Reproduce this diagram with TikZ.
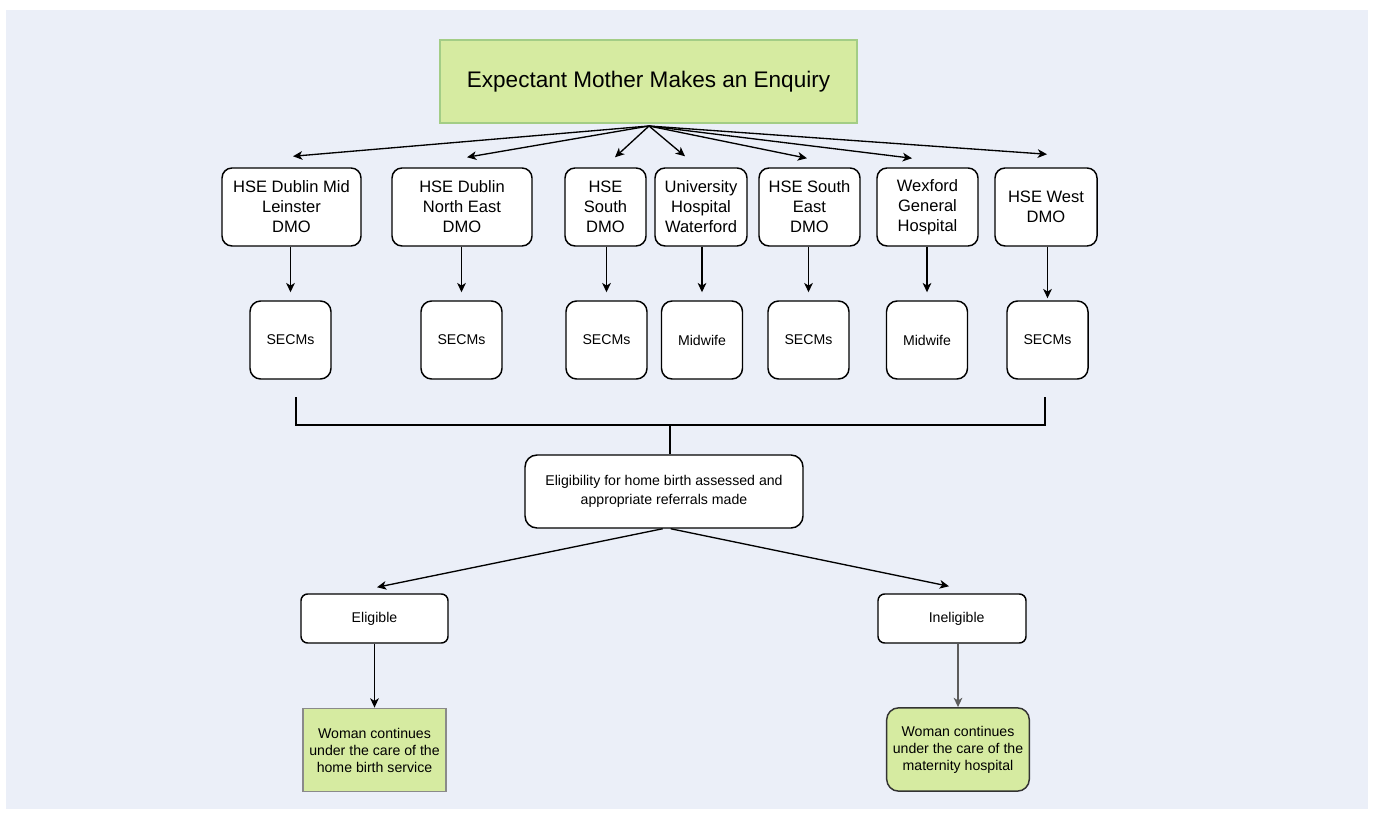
\documentclass[tikz,border=0pt]{standalone}
\usepackage{fontspec}
\setmainfont{Liberation Sans}
\usepackage{tikz}
\usetikzlibrary{arrows.meta}
\definecolor{PageBlue}{HTML}{EBEFF8}
\definecolor{LeafGreen}{HTML}{D6EBA1}
\definecolor{LeafEdge}{HTML}{A3CD86}
\definecolor{StoneGrey}{HTML}{8A8A8A}
\definecolor{InkDark}{HTML}{333333}

\tikzset{
  flow/.style={line width=1pt, -{Stealth[length=7pt,width=6.5pt,inset=2pt]}},
  plain/.style={line width=1pt},
  orgbox/.style={
    draw=black, line width=1.1pt, fill=white,
    rounded corners=7.5pt, align=center, inner sep=2pt,
    minimum height=58.5pt,
    font=\fontsize{12.4}{15}\selectfont
  },
  staffbox/.style={
    draw=black, line width=1.1pt, fill=white,
    rounded corners=8pt, align=center,
    minimum width=60.75pt, minimum height=58.5pt,
    font=\fontsize{10.6}{12.75}\selectfont
  },
  smallbox/.style={
    draw=black, line width=1.1pt, fill=white,
    rounded corners=5pt, align=center,
    minimum height=36.75pt,
    font=\fontsize{10.6}{12.75}\selectfont
  },
  outcome/.style={
    fill=LeafGreen, line width=1.1pt, align=center,
    minimum width=107pt, minimum height=62.5pt,
    font=\fontsize{10.6}{12.75}\selectfont
  }
}

\begin{document}
\begin{tikzpicture}[x=0.75pt,y=-0.75pt]
  \useasboundingbox (0,0) rectangle (1373,816);
  \fill[PageBlue] (6,10) rectangle (1368,809);

  % enquiry
  \node[
    draw=LeafEdge,
    fill=LeafGreen,
    line width=1pt,
    minimum width=312.75pt,
    minimum height=62.25pt,
    font=\fontsize{16.9}{20}\selectfont
  ] (enquiry) at (648.5,81.5) {Expectant Mother Makes an Enquiry};
  \coordinate (fan) at (649,126);

  % offices
  \node[orgbox, minimum width=104.25pt] (dml) at (291.5,207) {HSE Dublin Mid\\Leinster\\DMO};
  \node[orgbox, minimum width=105pt] (dne) at (462,207) {HSE Dublin\\North East\\DMO};
  \node[orgbox, minimum width=60.75pt] (south) at (605.5,207) {HSE\\South\\DMO};
  \node[orgbox, minimum width=69pt] (uhw) at (701,207) {University\\Hospital\\Waterford};
  \node[orgbox, minimum width=75.75pt] (seast) at (809.5,207) {HSE South\\East\\DMO};
  \node[orgbox, minimum width=75.75pt] (wgh) at (927.5,207) {Wexford\\General\\Hospital};
  \node[orgbox, minimum width=76.5pt] (west) at (1046,207) {HSE West\\DMO};

  % staff
  \node[staffbox] (s1) at (290.5,340) {SECMs};
  \node[staffbox] (s2) at (461.5,340) {SECMs};
  \node[staffbox] (s3) at (606.5,340) {SECMs};
  \node[staffbox] (s4) at (702,340) {Midwife};
  \node[staffbox] (s5) at (808.5,340) {SECMs};
  \node[staffbox] (s6) at (927,340) {Midwife};
  \node[staffbox] (s7) at (1047.5,340) {SECMs};

  % assessment
  \node[staffbox, rounded corners=9pt, minimum width=208.5pt, minimum height=54.75pt,
    font=\fontsize{10.6}{14}\selectfont] (assess) at (664,491.5)
    {Eligibility for home birth assessed and\\appropriate referrals made};
  \node[smallbox, minimum width=110.25pt] (elig) at (374.5,618.5) {Eligible};
  \node[smallbox, minimum width=111pt] (inelig) at (952,618.5) {\hspace*{7pt}Ineligible};

  \node[outcome, draw=StoneGrey] (home) at (374.5,750) {Woman continues\\under the care of the\\home birth service};
  \node[outcome, draw=InkDark, rounded corners=9pt] (hosp) at (958,749.5) {Woman continues\\under the care of the\\maternity hospital};

  % fan out
  \draw[flow] (fan) -- ([shift={(1.5,-11)}]dml.north);
  \draw[flow] (fan) -- ([shift={(5,-10)}]dne.north);
  \draw[flow] (fan) -- ([shift={(9.5,-10)}]south.north);
  \draw[flow] (fan) -- ([shift={(-16,-11)}]uhw.north);
  \draw[flow] (fan) -- ([shift={(-2.5,-9)}]seast.north);
  \draw[flow] (fan) -- ([shift={(-15.5,-9)}]wgh.north);
  \draw[flow] (fan) -- ([shift={(1,-13)}]west.north);

  \foreach \from/\to in {dml/s1,dne/s2,south/s3,uhw/s4,seast/s5,wgh/s6}
    \draw[flow] (\to.north |- \from.south) -- ([shift={(0,-8)}]\to.north);
  \draw[flow] (s7.north |- west.south) -- ([shift={(0,-2)}]s7.north);

  % join
  \coordinate (jl) at (296,397);
  \coordinate (jr) at (1045,397);
  \coordinate (jc) at (670,425);
  \draw[plain] (jl) -- ++(0,28) -| (jr);
  \draw[plain] (jc) -- (jc |- assess.north);

  \draw[flow] ([xshift=-1pt]assess.south) -- ([shift={(2.5,-6)}]elig.north);
  \draw[flow] ([xshift=5pt]assess.south) -- ([shift={(-3,-7)}]inelig.north);
  \draw[flow] (elig.south) -- (home.north);
  \draw[flow, draw=InkDark!80] (hosp.north |- inelig.south) -- (hosp.north);
\end{tikzpicture}
\end{document}
